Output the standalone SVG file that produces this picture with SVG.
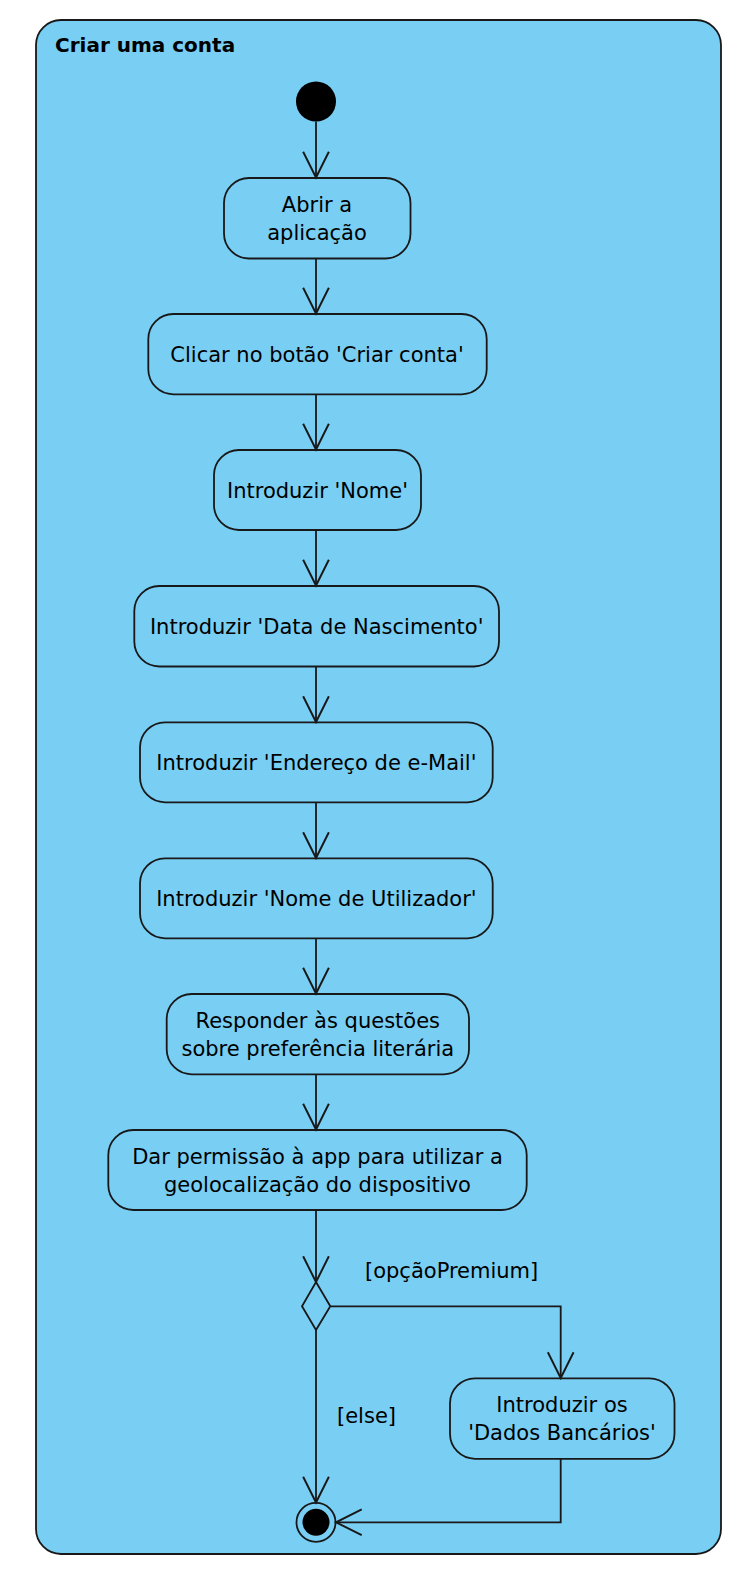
<svg xmlns="http://www.w3.org/2000/svg" width="744" height="1590" viewBox="0 0 744 1590">
<style>
  .frame { fill: #79CEF4; stroke: #181818; stroke-width: 1.8; }
  .act { fill: #79CEF4; stroke: #181818; stroke-width: 1.8; }
  .lbl { font-family: "DejaVu Sans", "Liberation Sans", sans-serif; font-size: 21px; fill: #000; text-anchor: middle; }
  .guard { font-family: "DejaVu Sans", "Liberation Sans", sans-serif; font-size: 21px; fill: #000; }
  .title { font-family: "DejaVu Sans", "Liberation Sans", sans-serif; font-size: 20px; font-weight: bold; fill: #000; }
  .edge { fill: none; stroke: #181818; stroke-width: 1.8; }
</style>
<defs>
  <marker id="open" markerUnits="userSpaceOnUse" orient="auto" refX="0" refY="0" markerWidth="30" markerHeight="30" viewBox="-26 -14 28 28" overflow="visible">
    <path d="M-24,-12 L0,0 L-24,12" fill="none" stroke="#181818" stroke-width="1.8"/>
  </marker>
</defs>

<g id="frame">
  <rect class="frame" x="36" y="20" width="685" height="1534" rx="25" ry="25"/>
  <text class="title" x="55" y="52">Criar uma conta</text>
</g>

<g id="start">
  <circle cx="316" cy="101.5" r="20" fill="#000"/>
</g>

<g id="abrir">
  <rect class="act" x="224" y="178" width="186.5" height="80.5" rx="25" ry="25"/>
  <text class="lbl" x="317" y="211.5">Abrir a</text>
  <text class="lbl" x="317" y="239.5">aplicação</text>
</g>

<g id="clicar">
  <rect class="act" x="148.3" y="314" width="338.4" height="80.3" rx="25" ry="25"/>
  <text class="lbl" x="317" y="362">Clicar no botão 'Criar conta'</text>
</g>

<g id="nome">
  <rect class="act" x="214" y="450" width="207" height="80" rx="25" ry="25"/>
  <text class="lbl" x="317.5" y="498">Introduzir 'Nome'</text>
</g>

<g id="data">
  <rect class="act" x="134.3" y="586" width="364.7" height="80.5" rx="25" ry="25"/>
  <text class="lbl" x="316.7" y="634">Introduzir 'Data de Nascimento'</text>
</g>

<g id="email">
  <rect class="act" x="140" y="722.3" width="352.7" height="80" rx="25" ry="25"/>
  <text class="lbl" x="316.4" y="770">Introduzir 'Endereço de e-Mail'</text>
</g>

<g id="utilizador">
  <rect class="act" x="140" y="858.3" width="352.7" height="80" rx="25" ry="25"/>
  <text class="lbl" x="316.4" y="905.7">Introduzir 'Nome de Utilizador'</text>
</g>

<g id="responder">
  <rect class="act" x="166.7" y="994" width="302.3" height="80.3" rx="25" ry="25"/>
  <text class="lbl" x="317.8" y="1028.3">Responder às questões</text>
  <text class="lbl" x="317.8" y="1056">sobre preferência literária</text>
</g>

<g id="permissao">
  <rect class="act" x="108.3" y="1130" width="418.4" height="80" rx="25" ry="25"/>
  <text class="lbl" x="317.5" y="1164">Dar permissão à app para utilizar a</text>
  <text class="lbl" x="317.5" y="1191.7">geolocalização do dispositivo</text>
</g>

<g id="decisao">
  <polygon class="act" points="316,1282 330.3,1306.3 316,1330 302,1306.3"/>
</g>

<g id="dados">
  <rect class="act" x="450" y="1378.3" width="224.5" height="80.5" rx="25" ry="25"/>
  <text class="lbl" x="562" y="1411.7">Introduzir os</text>
  <text class="lbl" x="562" y="1440">'Dados Bancários'</text>
</g>

<g id="fim">
  <circle cx="316" cy="1522.3" r="19.5" fill="none" stroke="#181818" stroke-width="1.8"/>
  <circle cx="316" cy="1522.3" r="13.5" fill="#000"/>
</g>

<g id="connectors">
  <path class="edge" d="M316,121.5 L316,177.5" marker-end="url(#open)"/>
  <path class="edge" d="M316,258.5 L316,313.5" marker-end="url(#open)"/>
  <path class="edge" d="M316,394.3 L316,449.5" marker-end="url(#open)"/>
  <path class="edge" d="M316,530 L316,585.5" marker-end="url(#open)"/>
  <path class="edge" d="M316,666.5 L316,722" marker-end="url(#open)"/>
  <path class="edge" d="M316,802.3 L316,858" marker-end="url(#open)"/>
  <path class="edge" d="M316,938.3 L316,993.5" marker-end="url(#open)"/>
  <path class="edge" d="M316,1074.3 L316,1129.5" marker-end="url(#open)"/>
  <path class="edge" d="M316,1210 L316,1282" marker-end="url(#open)"/>
  <path class="edge" d="M330.3,1306.3 L560.7,1306.3 L560.7,1378" marker-end="url(#open)"/>
  <path class="edge" d="M316,1330 L316,1502.5" marker-end="url(#open)"/>
  <path class="edge" d="M560.7,1458.8 L560.7,1522.3 L336,1522.3" marker-end="url(#open)"/>
  <text class="guard" x="365" y="1278">[opçãoPremium]</text>
  <text class="guard" x="337" y="1423.3">[else]</text>
</g>
</svg>
